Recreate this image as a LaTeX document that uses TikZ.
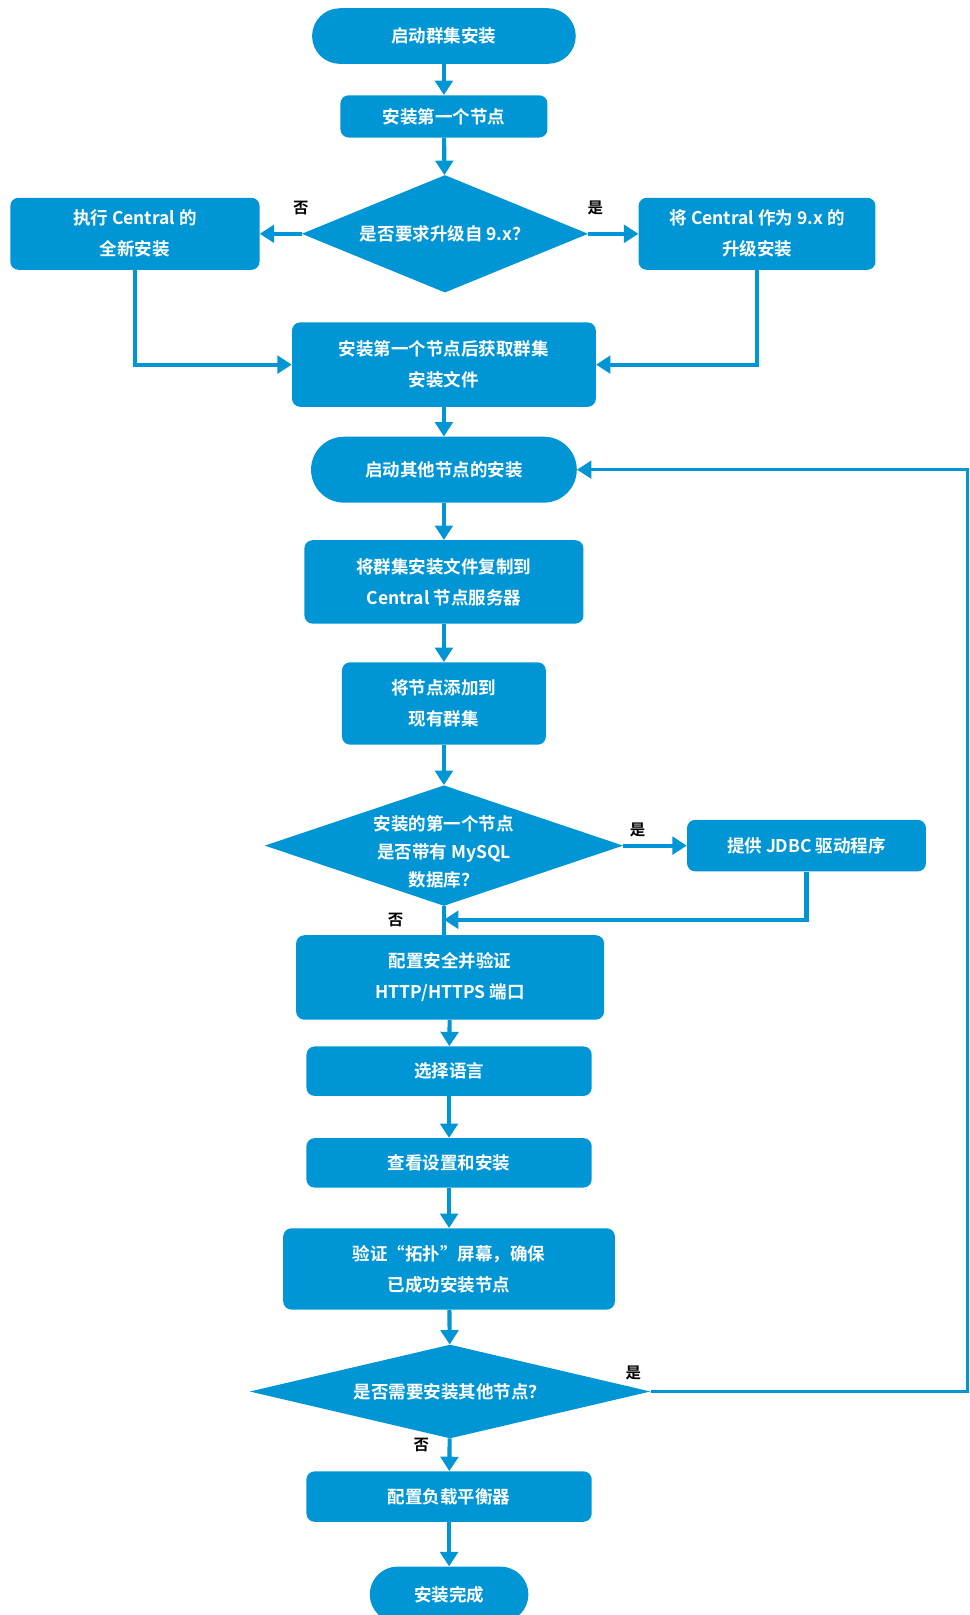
\documentclass[tikz,border=0pt]{standalone}
\usepackage{fontspec}
\setmainfont{Noto Sans CJK SC}[BoldFont={Noto Sans CJK SC Bold}]
\usetikzlibrary{shapes.geometric,arrows.meta}
\definecolor{hpblue}{RGB}{0,150,214}
\begin{document}
\begin{tikzpicture}[x=1pt,y=-1pt]
\useasboundingbox (0,0) rectangle (941,1568);
\tikzstyle{box}=[rectangle,rounded corners=8pt,fill=hpblue,text=white,font=\bfseries\fontsize{17}{30}\selectfont,align=center,inner sep=0pt]
\tikzstyle{dia}=[diamond,fill=hpblue,inner sep=0pt]
\tikzstyle{diatext}=[text=white,font=\bfseries\fontsize{17}{27}\selectfont,align=center,inner sep=0pt]
\tikzstyle{line}=[draw=hpblue,line width=4pt]
\tikzstyle{arr}=[line,-{Triangle[width=17pt,length=14pt]}]
\tikzstyle{tag}=[font=\bfseries\fontsize{15}{15}\selectfont]
% first node
\node[box,rounded corners=27pt,minimum width=256pt,minimum height=54pt] (start) at (431,35) {启动群集安装};
\node[box,minimum width=201pt,minimum height=41pt] (first) at (431,113) {安装第一个节点};
\node[dia,minimum width=278pt,minimum height=114pt,label={[diatext]center:{是否要求升级自 9.x？}}] (upg) at (432,227) {};
\node[box,minimum width=242pt,minimum height=70pt] (fresh) at (131,227) {执行 Central 的\\全新安装};
\node[box,minimum width=230pt,minimum height=70pt] (upgrade) at (735,227) {将 Central 作为 9.x 的\\升级安装};
\node[box,minimum width=295pt,minimum height=82pt] (getfile) at (431,354) {安装第一个节点后获取群集\\安装文件};
% other nodes
\node[box,rounded corners=32pt,minimum width=258pt,minimum height=64pt] (start2) at (431,456) {启动其他节点的安装};
\node[box,minimum width=271pt,minimum height=81pt] (copy) at (431,565) {将群集安装文件复制到\\Central 节点服务器};
\node[box,minimum width=198pt,minimum height=80pt] (addnode) at (431,683) {将节点添加到\\现有群集};
\node[dia,minimum width=348pt,minimum height=117pt,label={[diatext,yshift=-6pt]center:{安装的第一个节点\\是否带有 MySQL\\数据库？}}] (mysql) at (431,821) {};
\node[box,minimum width=232pt,minimum height=50pt] (jdbc) at (783,821) {提供 JDBC 驱动程序};
\node[box,minimum width=299pt,minimum height=82pt] (secure) at (437,949) {配置安全并验证\\HTTP/HTTPS 端口};
\node[box,minimum width=277pt,minimum height=48pt] (lang) at (436,1040) {选择语言};
\node[box,minimum width=277pt,minimum height=48pt] (review) at (436,1129) {查看设置和安装};
\node[box,minimum width=322pt,minimum height=79pt] (verify) at (436,1232) {验证“拓扑”屏幕，确保\\已成功安装节点};
\node[dia,minimum width=389pt,minimum height=91pt,label={[diatext]center:{是否需要安装其他节点？}}] (more) at (437,1351) {};
\node[box,minimum width=277pt,minimum height=49pt] (lb) at (436,1453) {配置负载平衡器};
\node[box,rounded corners=27pt,minimum width=154pt,minimum height=54pt] (done) at (436,1548) {安装完成};
% yes / no
\node[tag] (no1) at (292,202) {否};
\node[tag] (yes1) at (578,202) {是};
\node[tag] (yes2) at (619,806) {是};
\node[tag] (no2) at (384,893) {否};
\node[tag] (yes3) at (615,1333) {是};
\node[tag] (no3) at (409,1403) {否};
\coordinate (join) at (431,893);
\coordinate (loop) at (939,1351);
\draw[arr] (start) -- (first);
\draw[arr] (first) -- (upg);
\draw[arr] (upg) -- (fresh);
\draw[arr] (upg) -- (upgrade);
\draw[arr] (fresh.south) |- (getfile.west);
\draw[arr] (upgrade.south) |- (getfile.east);
\draw[arr] (getfile) -- (start2);
\draw[arr] (start2) -- (copy);
\draw[arr] (copy) -- (addnode);
\draw[arr] (addnode) -- (mysql);
\draw[arr] (mysql) -- (jdbc);
\draw[line] (mysql.south) -- (mysql.south |- secure.north);
\draw[arr] (jdbc.south) |- (join);
\draw[arr] (secure) -- (lang);
\draw[arr] (lang) -- (review);
\draw[arr] (review) -- (verify);
\draw[arr] (verify) -- (more);
\draw[arr] (more) -- (lb);
\draw[arr] (lb) -- (done);
\draw[arr,line width=3pt] (more.east) -- (loop) |- (start2.east);
\end{tikzpicture}
\end{document}
